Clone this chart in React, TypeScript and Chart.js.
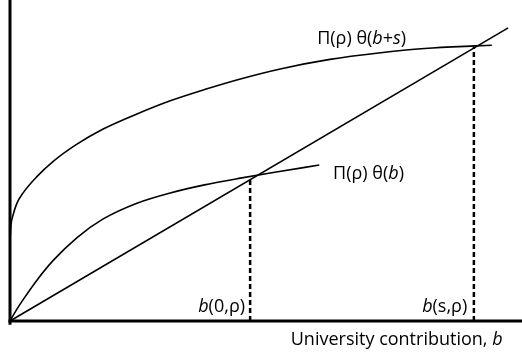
import React, { useEffect, useRef } from "react";
import { Chart, registerables } from "chart.js";

Chart.register(...registerables);

// Upper curve: Π(ρ) θ(b+s)
const upperX = [0, 0.02, 0.06, 0.13, 0.26, 0.52, 0.85, 1.3, 1.82, 2.48, 3.13, 3.8, 4.5, 5.3, 6.25, 7.2, 8.1, 9.08, 9.41];
const upperY = [2.52, 3.0, 3.3, 3.65, 4.0, 4.49, 4.98, 5.5, 5.98, 6.45, 6.86, 7.21, 7.54, 7.86, 8.15, 8.35, 8.49, 8.57, 8.59];

// Lower curve: Π(ρ) θ(b)
const lowerX = [0, 0.12, 0.25, 0.53, 0.84, 1.31, 1.82, 2.48, 3.13, 3.8, 4.5, 5.2, 6.04];
const lowerY = [0, 0.33, 0.65, 1.28, 1.88, 2.6, 3.18, 3.67, 3.99, 4.24, 4.45, 4.64, 4.86];

// Straight line through origin
const lineX = [0, 9.73];
const lineY = [0, 9.13];

// Dashed drop lines: b(0,ρ) and b(s,ρ)
const dropX = [4.69, 9.06];
const dropTop = [4.39, 8.54];

// Axis extents
const xAxisX = [-0.03, 10];
const yAxisY = [-0.12, 10];

// Labels: segments [text, italic]
type Seg = [string, boolean];
const labelSegs: Seg[][] = [
  [["Π(ρ) θ(", false], ["b", true], ["+", false], ["s", true], [")", false]],
  [["Π(ρ) θ(", false], ["b", true], [")", false]],
  [["b", true], ["(0,ρ)", false]],
  [["b", true], ["(s,ρ)", false]],
  [["University contribution, ", false], ["b", true]],
];
const labelX = [6.0, 6.31, 4.59, 8.93, 9.62];
const labelY = [8.79, 4.58, 0.44, 0.44, -0.59];
const labelAlign = ["left", "left", "right", "right", "right"];

const FONT = "'Open Sans', sans-serif";
const FSIZE = 18;

const labelPlugin = {
  id: "labels",
  afterDatasetsDraw(chart: any) {
    const ctx = chart.ctx;
    const xs = chart.scales.x;
    const ys = chart.scales.y;
    ctx.save();
    ctx.fillStyle = "#000";
    ctx.textBaseline = "middle";
    ctx.textAlign = "left";
    labelSegs.forEach((segs, i) => {
      const fontFor = (it: boolean) => `${it ? "italic " : ""}${FSIZE}px ${FONT}`;
      let total = 0;
      segs.forEach(([t, it]) => {
        ctx.font = fontFor(it);
        total += ctx.measureText(t).width;
      });
      let px = xs.getPixelForValue(labelX[i]);
      const py = ys.getPixelForValue(labelY[i]);
      if (labelAlign[i] === "right") px -= total;
      segs.forEach(([t, it]) => {
        ctx.font = fontFor(it);
        ctx.fillText(t, px, py);
        px += ctx.measureText(t).width;
      });
    });
    ctx.restore();
  },
};

const pts = (xs: number[], ys: number[]) => xs.map((x, i) => ({ x, y: ys[i] }));

export default function App() {
  const ref = useRef<HTMLCanvasElement>(null);
  useEffect(() => {
    if (!ref.current) return;
    const base = {
      type: "line" as const,
      showLine: true,
      pointRadius: 0,
      borderColor: "#000",
      backgroundColor: "#000",
      fill: false,
      clip: false as any,
      tension: 0,
    };
    const datasets: any[] = [
      { ...base, data: pts([xAxisX[0], xAxisX[1]], [0, 0]), borderWidth: 3 },
      { ...base, data: pts([0, 0], [yAxisY[0], yAxisY[1]]), borderWidth: 3 },
      { ...base, data: pts(upperX, upperY), borderWidth: 1.6, cubicInterpolationMode: "monotone" },
      { ...base, data: pts(lowerX, lowerY), borderWidth: 1.6, cubicInterpolationMode: "monotone" },
      { ...base, data: pts(lineX, lineY), borderWidth: 1.6 },
    ];
    dropX.forEach((x, i) => {
      datasets.push({ ...base, data: pts([x, x], [0, dropTop[i]]), borderWidth: 2.5, borderDash: [5, 3] });
    });
    const chart = new Chart(ref.current, {
      type: "scatter",
      data: { datasets },
      options: {
        responsive: false,
        animation: false,
        devicePixelRatio: 1,
        layout: { padding: { left: 10, right: 0, top: 0, bottom: 35 } },
        plugins: { legend: { display: false }, tooltip: { enabled: false } },
        scales: {
          x: { type: "linear", min: 0, max: 10, display: false },
          y: { type: "linear", min: 0, max: 10, display: false },
        },
      },
      plugins: [labelPlugin],
    });
    return () => chart.destroy();
  }, []);
  return (
    <div style={{ position: "fixed", left: 0, top: 0, width: 522, height: 356, background: "#fff" }}>
      <canvas ref={ref} width={522} height={356} />
    </div>
  );
}
